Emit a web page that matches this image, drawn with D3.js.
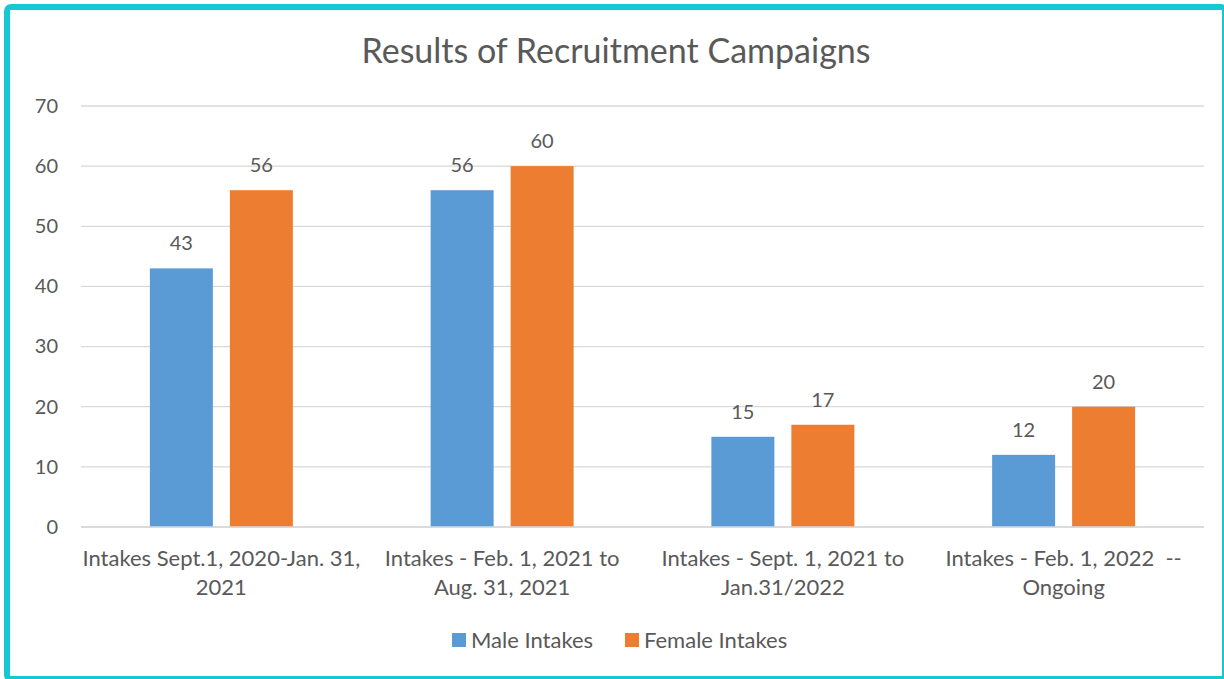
<!DOCTYPE html>
<html lang="en">
<head>
    <meta charset="UTF-8">
    <title>Results of Recruitment Campaigns</title>
    <script src="https://cdn.jsdelivr.net/npm/d3@7"></script>
    <style>
        html, body { margin: 0; padding: 0; background: #fff; }
        svg text { font-family: Lato, "Open Sans", sans-serif; fill: #595959; }
    </style>
</head>
<body>
<div id="chart"></div>
<script>
    const categories = [
        ['Intakes Sept.1, 2020-Jan. 31,', '2021'],
        ['Intakes - Feb. 1, 2021 to', 'Aug. 31, 2021'],
        ['Intakes - Sept. 1, 2021 to', 'Jan.31/2022'],
        ['Intakes - Feb. 1, 2022  --', 'Ongoing']
    ]
    const seriesNames = ['Male Intakes', 'Female Intakes']
    const maleValues = [43, 56, 15, 12]
    const femaleValues = [56, 60, 17, 20]
    const yTicks = [0, 10, 20, 30, 40, 50, 60, 70]
    const colors = ['#5b9bd5', '#ed7d31']

    const width = 1224, height = 679
    const margin = {top: 106, right: 20, bottom: 152, left: 81}

    const svg = d3.select('#chart').append('svg').attr('width', width).attr('height', height)

    // frame
    svg.append('rect')
        .attr('x', 7).attr('y', 7).attr('width', 1218).attr('height', 672)
        .attr('rx', 4)
        .attr('fill', '#fff').attr('stroke', '#17c8d3').attr('stroke-width', 6)

    svg.append('text')
        .attr('x', 616).attr('y', 63)
        .attr('text-anchor', 'middle')
        .attr('font-size', 34)
        .text('Results of Recruitment Campaigns')

    const x = d3.scaleBand().domain(d3.range(categories.length))
        .range([margin.left, width - margin.right])
    const y = d3.scaleLinear().domain([0, 70]).range([height - margin.bottom, margin.top])

    // bars are 63px wide with a 17px gap, centred in each group
    const barW = 63, gap = 17
    const offset = i => x(i) + x.bandwidth() / 2 - (barW * 2 + gap) / 2

    // grid
    const grid = svg.append('g')
    grid.selectAll('line').data(yTicks).join('line')
        .attr('x1', x.range()[0]).attr('x2', x.range()[1])
        .attr('y1', d => y(d)).attr('y2', d => y(d))
        .attr('stroke', '#d9d9d9').attr('stroke-width', 1.3)

    // y labels
    const yAxis = d3.axisLeft(y).tickValues(yTicks).tickSize(0).tickPadding(23)
    const yg = svg.append('g').attr('transform', `translate(${margin.left},0)`).call(yAxis)
    yg.select('.domain').remove()
    yg.selectAll('text').attr('font-size', 20).style('font-family', 'Lato, sans-serif').attr('fill', '#595959')

    const series = [maleValues, femaleValues]
    series.forEach((vals, s) => {
        const g = svg.append('g')
        g.selectAll('rect').data(vals).join('rect')
            .attr('x', (d, i) => offset(i) + s * (barW + gap))
            .attr('width', barW)
            .attr('y', d => y(d))
            .attr('height', d => y(0) - y(d))
            .attr('fill', colors[s])
        g.selectAll('text').data(vals).join('text')
            .attr('x', (d, i) => offset(i) + s * (barW + gap) + barW / 2)
            .attr('y', d => y(d) - 18)
            .attr('text-anchor', 'middle')
            .attr('font-size', 20)
            .text(d => d)
    })

    // axis line on top of bars
    svg.append('line')
        .attr('x1', x.range()[0]).attr('x2', x.range()[1])
        .attr('y1', y(0)).attr('y2', y(0))
        .attr('stroke', '#d9d9d9').attr('stroke-width', 1.5)

    // category labels
    const xl = svg.append('g')
    categories.forEach((lines, i) => {
        const t = xl.append('text')
            .attr('x', x(i) + x.bandwidth() / 2)
            .attr('y', 566)
            .attr('text-anchor', 'middle')
            .attr('font-size', 22)
        lines.forEach((ln, k) => {
            t.append('tspan')
                .attr('x', x(i) + x.bandwidth() / 2)
                .attr('dy', k === 0 ? 0 : 29)
                .style('white-space', 'pre')
                .text(ln)
        })
    })

    // legend
    const legend = svg.append('g')
    const legendX = [452, 625]
    seriesNames.forEach((name, s) => {
        legend.append('rect')
            .attr('x', legendX[s]).attr('y', 633)
            .attr('width', 14).attr('height', 14)
            .attr('fill', colors[s])
        legend.append('text')
            .attr('x', legendX[s] + 19).attr('y', 648)
            .attr('font-size', 22)
            .text(name)
    })
</script>
</body>
</html>
